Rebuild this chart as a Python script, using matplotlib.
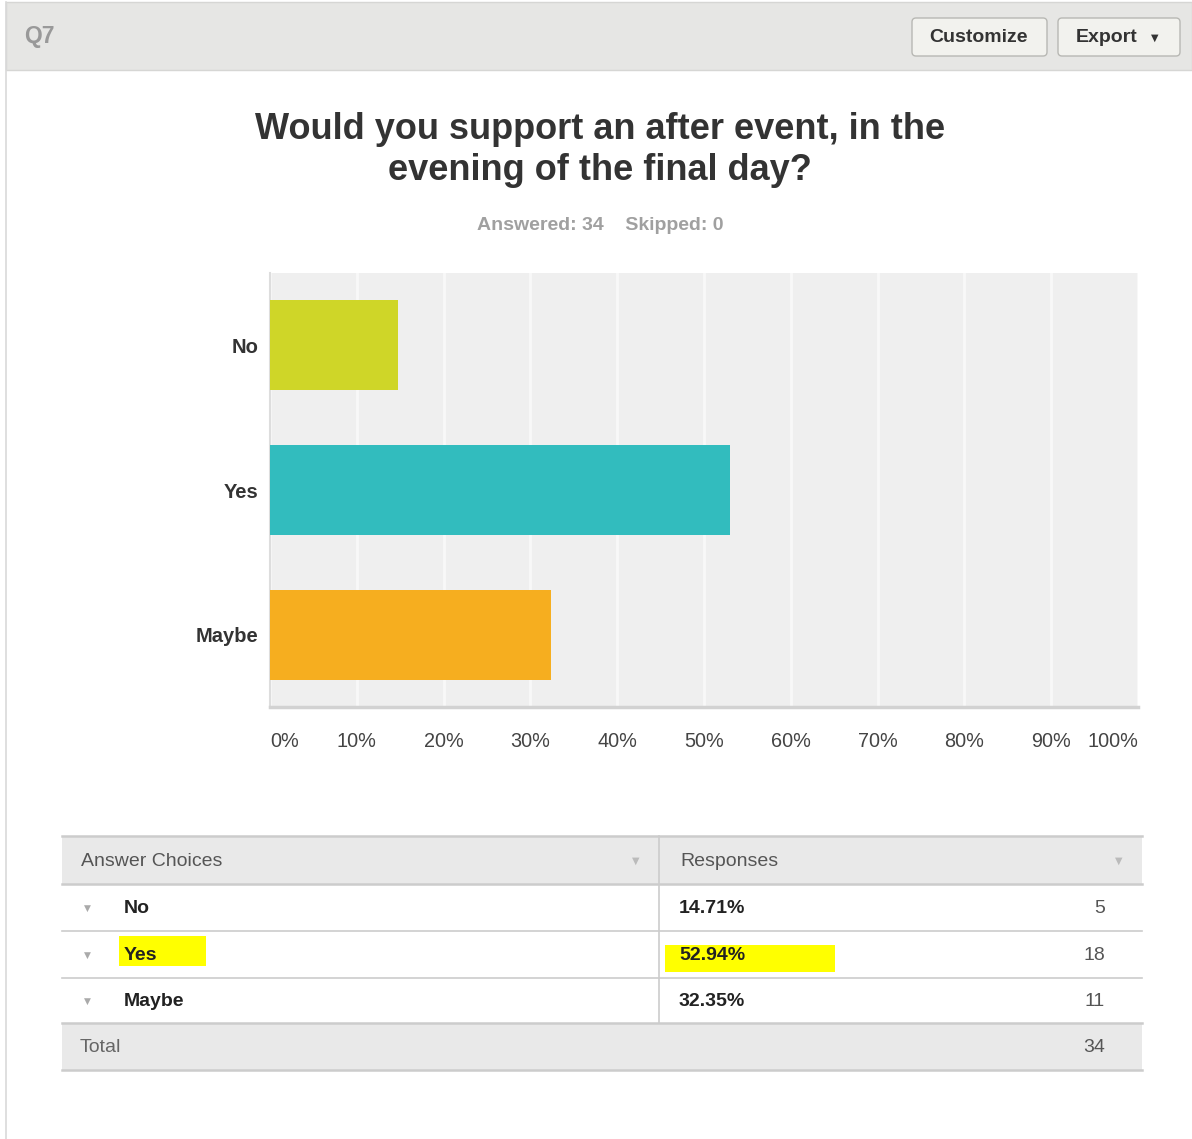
import matplotlib.pyplot as plt
from matplotlib.patches import Rectangle, FancyBboxPatch

plt.rcParams['font.family'] = ['Liberation Sans', 'DejaVu Sans']

# data
question = "Q7"
title = "Would you support an after event, in the\nevening of the final day?"
answered = 34
skipped = 0
choices = ["No", "Yes", "Maybe"]
percents = [14.71, 52.94, 32.35]
counts = [5, 18, 11]
total = 34
bar_colors = ["#cfd628", "#32bcbe", "#f6ae1f"]
tick_vals = [0, 10, 20, 30, 40, 50, 60, 70, 80, 90, 100]
tick_labels = ["%d%%" % v for v in tick_vals]

W, H = 1192, 1139
fig = plt.figure(figsize=(W / 100, H / 100), dpi=100)
fig.patch.set_facecolor("white")

# page overlay in pixel coords
bg = fig.add_axes([0, 0, 1, 1])
bg.set_xlim(0, W)
bg.set_ylim(H, 0)
bg.axis("off")

# header band
bg.add_patch(Rectangle((6, 2), W - 6, 68, facecolor="#e6e6e4", edgecolor="#d6d6d4", lw=1))
bg.plot([6, 6], [2, H], color="#d9d9d9", lw=1.2)
bg.text(24, 37, question, fontsize=16.5, fontweight="bold", color="#999999", va="center", ha="left")

# buttons
for x0, x1 in [(912, 1047), (1058, 1180)]:
    bg.add_patch(FancyBboxPatch((x0, 18), x1 - x0, 38, boxstyle="round,pad=0,rounding_size=4",
                                facecolor="#f2f2ee", edgecolor="#b8b8b4", lw=1))
bg.text(979, 38, "Customize", fontsize=14, fontweight="bold", color="#333333", ha="center", va="center")
bg.text(1076, 38, "Export", fontsize=14, fontweight="bold", color="#333333", ha="left", va="center")
bg.text(1155, 38, "\u25bc", fontsize=7, color="#333333", ha="center", va="center", family="DejaVu Sans")

# title
bg.text(600, 150, title, fontsize=26, fontweight="bold", color="#333333", ha="center", va="center",
        linespacing=1.22)
bg.text(600, 224, "Answered: %d    Skipped: %d" % (answered, skipped), fontsize=14, fontweight="bold",
        color="#a0a0a0", ha="center", va="center_baseline")

# chart
ax = fig.add_axes([270 / W, 1 - 707 / H, 868 / W, 434 / H])
ax.set_facecolor("#efefef")
ypos = list(range(len(choices)))
ax.barh(ypos, percents, height=0.62, color=bar_colors, zorder=3)
ax.set_xlim(0, 100)
ax.set_ylim(len(choices) - 0.5, -0.5)
ax.set_xticks(tick_vals)
ax.grid(axis="x", color="#f8f8f8", lw=2, zorder=1)
ax.set_yticks(ypos)
ax.set_yticklabels(choices, fontsize=14.5, fontweight="bold", color="#333333")
ax.tick_params(axis="y", length=0, pad=8.5)
ax.set_xticklabels(tick_labels, fontsize=14.3, color="#444444")
ax.tick_params(axis="x", length=0, pad=18)
labels = ax.get_xticklabels()
labels[0].set_ha("left")
labels[-1].set_ha("right")
for s in ["top", "right"]:
    ax.spines[s].set_visible(False)
ax.spines["bottom"].set_color("#d2d2d2")
ax.spines["bottom"].set_linewidth(2.5)
ax.spines["left"].set_color("#dddddd")
ax.spines["left"].set_linewidth(1.5)

# table
tx0, tx1, tmid = 62, 1142, 659
rows_y = [836, 884, 931, 978, 1023, 1070]
grid_c = "#cccccc"
bg.add_patch(Rectangle((tx0, rows_y[0]), tx1 - tx0, rows_y[1] - rows_y[0], facecolor="#e9e9e9", edgecolor="none"))
bg.add_patch(Rectangle((tx0, rows_y[4]), tx1 - tx0, rows_y[5] - rows_y[4], facecolor="#e9e9e9", edgecolor="none"))
for y in rows_y:
    bg.plot([tx0, tx1], [y, y], color=grid_c, lw=1.8 if y in (rows_y[0], rows_y[1], rows_y[4], rows_y[5]) else 1.2)
bg.plot([tmid, tmid], [rows_y[0], rows_y[4]], color=grid_c, lw=1.2)

bg.text(81, 861, "Answer Choices", fontsize=14, color="#555555", ha="left", va="center")
bg.text(680, 861, "Responses", fontsize=14, color="#555555", ha="left", va="center")
for xt in (636, 1119):
    bg.text(xt, 861, "\u25bc", fontsize=7, color="#bbbbbb", ha="center", va="center", family="DejaVu Sans")

# highlights
bg.add_patch(Rectangle((119, 936), 87, 30, facecolor="#ffff00", edgecolor="none"))
bg.add_patch(Rectangle((665, 945), 170, 27, facecolor="#ffff00", edgecolor="none"))

for i, (c, p, n) in enumerate(zip(choices, percents, counts)):
    yc = (rows_y[i + 1] + rows_y[i + 2]) / 2 + 1
    bg.text(87, yc, "\u25bc", fontsize=6.5, color="#aaaaaa", ha="center", va="center", family="DejaVu Sans")
    bg.text(124, yc, c, fontsize=14, fontweight="bold", color="#222222", ha="left", va="center")
    bg.text(679, yc, "%.2f%%" % p, fontsize=14, fontweight="bold", color="#222222", ha="left", va="center")
    bg.text(1105, yc, str(n), fontsize=14, color="#555555", ha="right", va="center")

bg.text(80, 1047, "Total", fontsize=14, color="#666666", ha="left", va="center")
bg.text(1105, 1047, str(total), fontsize=14, color="#555555", ha="right", va="center")

fig.savefig("out.png", dpi=100)
